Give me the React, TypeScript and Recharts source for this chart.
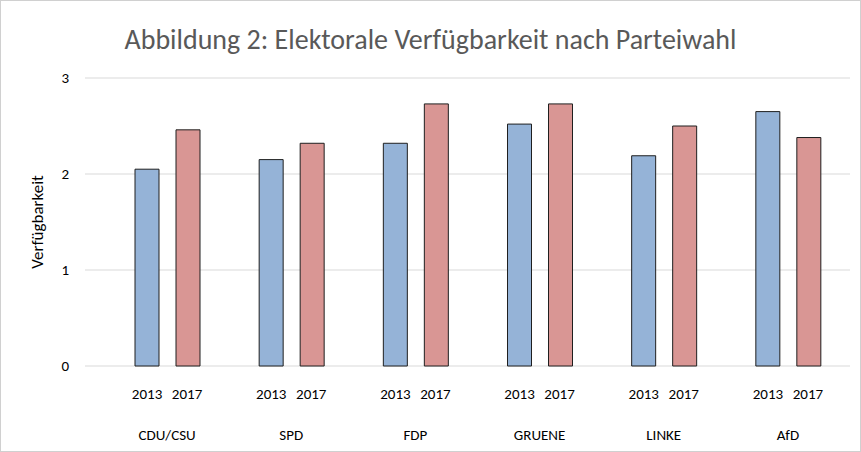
import React from "react";
import { BarChart, Bar, XAxis, YAxis, CartesianGrid } from "recharts";

const parties = ["CDU/CSU", "SPD", "FDP", "GRUENE", "LINKE", "AfD"];
const v2013 = [2.05, 2.15, 2.32, 2.52, 2.19, 2.65];
const v2017 = [2.46, 2.32, 2.73, 2.73, 2.5, 2.38];
const yearLabels = ["2013", "2017"];
const yTicks = [0, 1, 2, 3];

const data = parties.map((p, i) => ({ party: p, y2013: v2013[i], y2017: v2017[i] }));
const font = "Carlito, Calibri, Lato, sans-serif";

const Tick = (props: any) => {
  const { x, y, payload } = props;
  return (
    <g fontFamily={font} fontSize={15} fill="#000">
      <text x={x - 20} y={y + 25} textAnchor="middle">{yearLabels[0]}</text>
      <text x={x + 20} y={y + 25} textAnchor="middle">{yearLabels[1]}</text>
      <text x={x} y={y + 66} textAnchor="middle">{payload.value}</text>
    </g>
  );
};

export default function App() {
  return (
    <div style={{ position: "absolute", left: 0, top: 0, width: 861, height: 452, background: "#fff" }}>
      <div style={{ position: "absolute", inset: 0, border: "1px solid #d0d0d0", boxSizing: "border-box" }} />
      <div style={{ position: "absolute", top: 22, width: 861, textAlign: "center", fontFamily: font, fontSize: 28, color: "#595959" }}>
        Abbildung 2: Elektorale Verfügbarkeit nach Parteiwahl
      </div>
      <BarChart width={861} height={452} data={data} margin={{ top: 78, right: 11, bottom: 85, left: 25 }} barSize={24} barGap={17}>
        <CartesianGrid vertical={false} stroke="#d9d9d9" />
        <XAxis dataKey="party" height={1} tick={<Tick />} axisLine={false} tickLine={false} padding={{ left: 20, right: 0 }} interval={0} />
        <YAxis domain={[0, 3]} ticks={yTicks} width={60} axisLine={false} tickLine={false} tickMargin={10}
          tick={{ fontFamily: font, fontSize: 15, fill: "#000" }}
          label={{ value: "Verfügbarkeit", angle: -90, position: "insideLeft", offset: 12, style: { fontFamily: font, fontSize: 17, fill: "#000", textAnchor: "middle" } }} />
        <Bar dataKey="y2013" fill="#95B3D7" stroke="#1f1f1f" strokeWidth={1} isAnimationActive={false} />
        <Bar dataKey="y2017" fill="#D99694" stroke="#1f1f1f" strokeWidth={1} isAnimationActive={false} />
      </BarChart>
    </div>
  );
}
